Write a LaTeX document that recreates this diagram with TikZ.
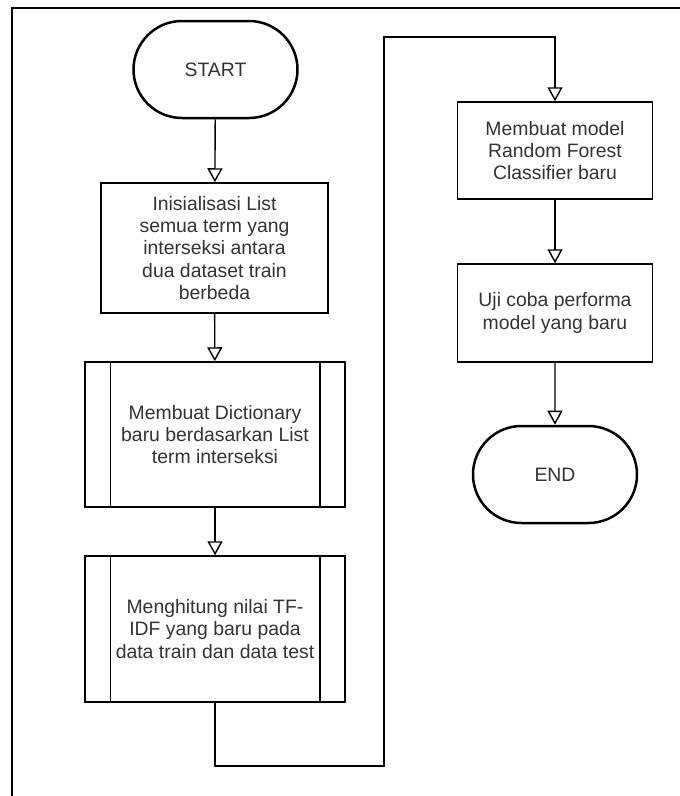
\documentclass[tikz,border=0pt]{standalone}
\usepackage{fontspec}
\setmainfont{Liberation Sans}
\usetikzlibrary{arrows.meta,shapes.misc}
\definecolor{textgray}{HTML}{333333}

\begin{document}
\begin{tikzpicture}[x=1pt,y=-1pt,
  txt/.style={text=textgray, font=\fontsize{19.4}{22.4}\selectfont, align=center},
  proc/.style={draw=black, line width=1.5pt, rectangle, txt, inner sep=0pt},
  term/.style={draw=black, line width=2.5pt, rounded rectangle, txt,
               minimum width=164pt, minimum height=97pt, inner sep=0pt},
  flow/.style={draw=black, line width=1.4pt,
               -{Triangle[open, width=15pt, length=14pt]}},
]
\useasboundingbox (0,0) rectangle (680,796);

% outer frame
\draw[line width=2pt] (11.5,800) -- (11.5,8) -- (684,8);

% left column
\node[term] (start) at (215.5,69.5) {START};
\node[proc, minimum width=227pt, minimum height=130pt] (init) at (214.5,248)
  {Inisialisasi List\\semua term yang\\interseksi antara\\dua dataset train\\berbeda};
\node[proc, minimum width=260pt, minimum height=145pt] (dict) at (215,434.5)
  {Membuat Dictionary\\baru berdasarkan List\\term interseksi};
\node[proc, minimum width=260pt, minimum height=146pt] (tfidf) at (215,629)
  {Menghitung nilai TF-\\IDF yang baru pada\\data train dan data test};

% predefined-process side bars
\foreach \n in {dict,tfidf}{
  \draw[line width=1.5pt] ([xshift=26pt]\n.north west) -- ([xshift=26pt]\n.south west);
  \draw[line width=1.5pt] ([xshift=-26pt]\n.north east) -- ([xshift=-26pt]\n.south east);
}

% right column
\node[proc, minimum width=195pt, minimum height=97pt] (rf) at (555,150.5)
  {Membuat model\\Random Forest\\Classifier baru};
\node[proc, minimum width=195pt, minimum height=98pt] (test) at (555,313)
  {Uji coba performa\\model yang baru};
\node[term] (end) at (555,474.5) {END};

% connectors
\draw[flow] (start) -- (init);
\draw[flow] (init) -- (dict);
\draw[flow] (dict) -- (tfidf);
\coordinate (bendA) at (384,766);
\coordinate (bendB) at (555,37);
\draw[flow] (tfidf.south) |- (bendA) |- (bendB) -- (rf.north);
\draw[flow] (rf) -- (test);
\draw[flow] (test) -- (end);
\end{tikzpicture}
\end{document}
